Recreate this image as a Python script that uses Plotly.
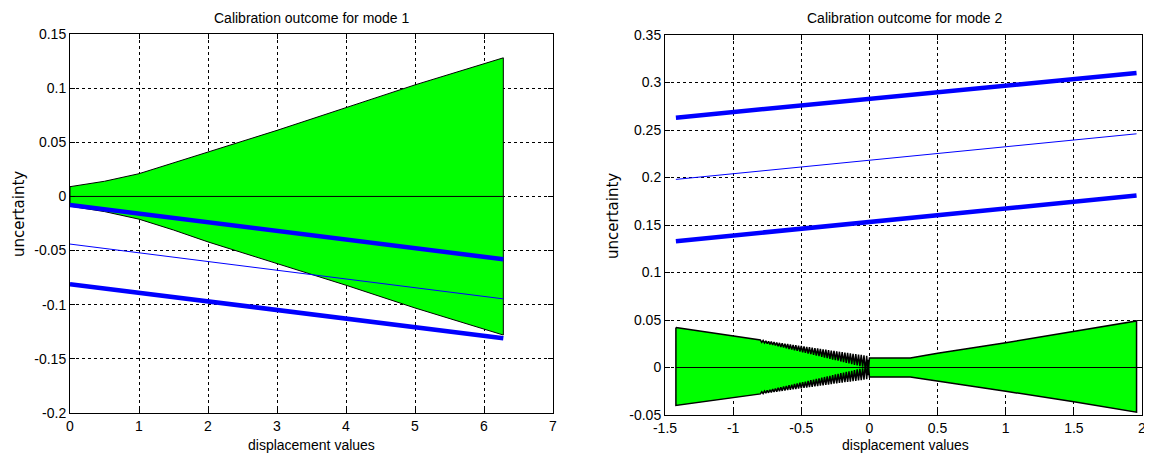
import plotly.graph_objects as go

# ---------------- data: mode 1 (left) ----------------
m1_band_x = [0.0, 0.5, 1.0, 1.5, 2.0, 3.0, 4.0, 5.0, 6.28]
m1_band_upper = [0.009, 0.014, 0.021, 0.031, 0.041, 0.061, 0.082, 0.103, 0.128]
m1_band_lower = [-0.009, -0.014, -0.021, -0.031, -0.042, -0.062, -0.082, -0.103, -0.128]
m1_zero_x = [0.0, 6.28]
m1_zero_y = [0.0, 0.0]
m1_line_x = [0.0, 6.28]
m1_thick_upper = [-0.008, -0.058]
m1_thin_mid = [-0.044, -0.0946]
m1_thick_lower = [-0.081, -0.131]

# ---------------- data: mode 2 (right) ----------------
m2_band_x = [-1.42, -1.20, -1.00,
             -0.80, -0.79, -0.78, -0.77, -0.76, -0.75, -0.74, -0.73, -0.72, -0.71,
             -0.70, -0.69, -0.68, -0.67, -0.66, -0.65, -0.64, -0.63, -0.62, -0.61,
             -0.60, -0.59, -0.58, -0.57, -0.56, -0.55, -0.54, -0.53, -0.52, -0.51,
             -0.50, -0.49, -0.48, -0.47, -0.46, -0.45, -0.44, -0.43, -0.42, -0.41,
             -0.40, -0.39, -0.38, -0.37, -0.36, -0.35, -0.34, -0.33, -0.32, -0.31,
             -0.30, -0.29, -0.28, -0.27, -0.26, -0.25, -0.24, -0.23, -0.22, -0.21,
             -0.20, -0.19, -0.18, -0.17, -0.16, -0.15, -0.14, -0.13, -0.12, -0.11,
             -0.10, -0.09, -0.08, -0.07, -0.06, -0.05, -0.04, -0.03, -0.02, -0.01,
             0.00, 0.30, 0.50, 1.00, 1.50, 1.96]
m2_band_upper = [0.042, 0.0373, 0.0331,
                 0.0289, 0.0265, 0.0285, 0.0258, 0.0280, 0.0251, 0.0276, 0.0244, 0.0272, 0.0237,
                 0.0268, 0.0231, 0.0263, 0.0223, 0.0259, 0.0216, 0.0255, 0.0210, 0.0251, 0.0203,
                 0.0247, 0.0195, 0.0242, 0.0188, 0.0238, 0.0182, 0.0234, 0.0175, 0.0230, 0.0168,
                 0.0226, 0.0160, 0.0221, 0.0154, 0.0217, 0.0147, 0.0213, 0.0140, 0.0209, 0.0133,
                 0.0204, 0.0126, 0.0200, 0.0119, 0.0196, 0.0112, 0.0192, 0.0105, 0.0188, 0.0098,
                 0.0183, 0.0091, 0.0179, 0.0084, 0.0175, 0.0077, 0.0171, 0.0071, 0.0166, 0.0063,
                 0.0162, 0.0056, 0.0158, 0.0049, 0.0154, 0.0043, 0.0150, 0.0035, 0.0145, 0.0028,
                 0.0141, 0.0021, 0.0137, 0.0015, 0.0133, 0.0008, 0.0128, -0.004, 0.0124, -0.008,
                 0.010, 0.010, 0.015, 0.026, 0.038, 0.049]
m2_band_lower = [-0.040, -0.0356, -0.0317,
                 -0.0278, -0.0255, -0.0274, -0.0248, -0.0270, -0.0241, -0.0266, -0.0234, -0.0262, -0.0228,
                 -0.0258, -0.0221, -0.0254, -0.0214, -0.0250, -0.0208, -0.0246, -0.0201, -0.0242, -0.0194,
                 -0.0238, -0.0187, -0.0234, -0.0180, -0.0230, -0.0174, -0.0226, -0.0167, -0.0222, -0.0160,
                 -0.0219, -0.0154, -0.0215, -0.0148, -0.0211, -0.0141, -0.0207, -0.0134, -0.0203, -0.0127,
                 -0.0199, -0.0121, -0.0195, -0.0114, -0.0191, -0.0107, -0.0187, -0.0100, -0.0183, -0.0094,
                 -0.0179, -0.0087, -0.0175, -0.0080, -0.0171, -0.0073, -0.0167, -0.0067, -0.0163, -0.0060,
                 -0.0159, -0.0053, -0.0155, -0.0047, -0.0152, -0.0040, -0.0148, -0.0034, -0.0144, -0.0027,
                 -0.0140, -0.0020, -0.0136, -0.0014, -0.0132, -0.0008, -0.0128, 0.004, -0.0124, 0.008,
                 -0.010, -0.010, -0.0145, -0.025, -0.036, -0.047]
m2_zero_x = [-1.42, 1.96]
m2_zero_y = [0.0, 0.0]
m2_line_x = [-1.42, 1.96]
m2_thick_upper = [0.263, 0.310]
m2_thin_mid = [0.198, 0.246]
m2_thick_lower = [0.133, 0.181]

# ---------------- ticks & text ----------------
m1_xticks = [0, 1, 2, 3, 4, 5, 6, 7]
m1_xticktext = ["0", "1", "2", "3", "4", "5", "6", "7"]
m1_yticks = [-0.2, -0.15, -0.1, -0.05, 0, 0.05, 0.1, 0.15]
m1_yticktext = ["-0.2", "-0.15", "-0.1", "-0.05", "0", "0.05", "0.1", "0.15"]
m2_xticks = [-1.5, -1, -0.5, 0, 0.5, 1, 1.5, 2]
m2_xticktext = ["-1.5", "-1", "-0.5", "0", "0.5", "1", "1.5", "2"]
m2_yticks = [-0.05, 0, 0.05, 0.1, 0.15, 0.2, 0.25, 0.3, 0.35]
m2_yticktext = ["-0.05", "0", "0.05", "0.1", "0.15", "0.2", "0.25", "0.3", "0.35"]
titles = ["Calibration outcome for mode 1", "Calibration outcome for mode 2"]
xlabel = "displacement values"
ylabel = "uncertainty"

GREEN = "#00FF00"
BLUE = "#0000FF"
FONT = "Liberation Sans, Arial, sans-serif"
W, H = 1152, 454
OFF = 8  # page body margin: figure origin sits at (8, 8) in the window


def px_x(p):
    return (p - OFF) / W


def px_y(p):
    return (H - (p - OFF)) / H


fig = go.Figure()


def add_panel(xa, ya, bx, bu, bl, zx, zy, lx, l1, l2, l3, edge_w):
    poly_x = list(bx) + list(reversed(bx)) + [bx[0]]
    poly_y = list(bu) + list(reversed(bl)) + [bu[0]]
    fig.add_trace(go.Scatter(x=poly_x, y=poly_y, mode="lines", fill="toself",
                             fillcolor=GREEN, line=dict(color="black", width=edge_w),
                             xaxis=xa, yaxis=ya, showlegend=False, hoverinfo="skip"))
    fig.add_trace(go.Scatter(x=zx, y=zy, mode="lines", line=dict(color="black", width=1),
                             xaxis=xa, yaxis=ya, showlegend=False))
    fig.add_trace(go.Scatter(x=lx, y=l1, mode="lines", line=dict(color=BLUE, width=4.5),
                             xaxis=xa, yaxis=ya, showlegend=False))
    fig.add_trace(go.Scatter(x=lx, y=l2, mode="lines", line=dict(color=BLUE, width=1),
                             xaxis=xa, yaxis=ya, showlegend=False))
    fig.add_trace(go.Scatter(x=lx, y=l3, mode="lines", line=dict(color=BLUE, width=4.5),
                             xaxis=xa, yaxis=ya, showlegend=False))


add_panel("x", "y", m1_band_x, m1_band_upper, m1_band_lower, m1_zero_x, m1_zero_y,
          m1_line_x, m1_thick_upper, m1_thin_mid, m1_thick_lower, 1)
add_panel("x2", "y2", m2_band_x, m2_band_upper, m2_band_lower, m2_zero_x, m2_zero_y,
          m2_line_x, m2_thick_upper, m2_thin_mid, m2_thick_lower, 1.5)

axis_common = dict(showline=True, linecolor="black", linewidth=1, mirror="ticks",
                   ticks="inside", ticklen=5, tickcolor="black", automargin=False,
                   showgrid=True, gridcolor="black", gridwidth=1, griddash="dot",
                   zeroline=False, ticklabeloverflow="allow",
                   tickfont=dict(family=FONT, size=14, color="black"))

fig.update_layout(
    width=W, height=H,
    margin=dict(l=0, r=0, t=0, b=0, autoexpand=False),
    paper_bgcolor="white", plot_bgcolor="white",
    showlegend=False,
    xaxis=dict(domain=[px_x(70), px_x(553)], range=[0, 7], tickvals=m1_xticks,
               ticktext=m1_xticktext, anchor="y", **axis_common),
    yaxis=dict(domain=[px_y(413), px_y(34)], range=[-0.2, 0.15],
               tickvals=m1_yticks, ticktext=m1_yticktext, anchor="x", **axis_common),
    xaxis2=dict(domain=[px_x(665), px_x(1142)], range=[-1.5, 2], tickvals=m2_xticks,
                ticktext=m2_xticktext, anchor="y2", **axis_common),
    yaxis2=dict(domain=[px_y(415), px_y(35)], range=[-0.05, 0.35],
                tickvals=m2_yticks, ticktext=m2_yticktext, anchor="x2", **axis_common),
)

ann_font = dict(family=FONT, size=14, color="black")
ylab_font = dict(family="DejaVu Sans, sans-serif", size=15, color="black")
annotations = [
    dict(text=titles[0], x=px_x(311.5), y=px_y(18), font=ann_font),
    dict(text=titles[1], x=px_x(905), y=px_y(18), font=ann_font),
    dict(text=xlabel, x=px_x(311.5), y=px_y(445), font=ann_font),
    dict(text=xlabel, x=px_x(905), y=px_y(445), font=ann_font),
    dict(text=ylabel, x=px_x(19), y=px_y(214), textangle=-90, font=ylab_font),
    dict(text=ylabel, x=px_x(613), y=px_y(216), textangle=-90, font=ylab_font),
]
for a in annotations:
    fig.add_annotation(xref="paper", yref="paper", showarrow=False,
                       xanchor="center", yanchor="middle", **a)

fig.write_html("out.html")
